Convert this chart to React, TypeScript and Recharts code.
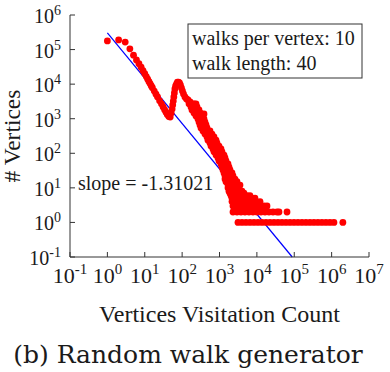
import { ScatterChart, Scatter, XAxis, YAxis, ReferenceLine } from 'recharts';

const xTicks = [0.1, 1, 10, 100, 1e3, 1e4, 1e5, 1e6, 1e7];
const yTicks = [0.1, 1, 10, 100, 1e3, 1e4, 1e5, 1e6];

// low visitation counts: one point per count (the dip and the bump near 80)
const curveCounts = [
  1, 2, 3, 4, 5, 6, 7, 8, 9, 10, 11, 12, 13, 14, 15, 16, 18, 20, 22, 25, 28, 31, 34, 37, 40, 44, 48,
  51, 54, 56, 58, 60, 62, 64, 67, 71, 75, 80, 85, 90, 96, 102, 109, 119, 131, 144, 163,
];
const curveVertices = [
  178000, 190000, 165000, 105000, 69000, 50000, 39000, 31000, 24500, 20000, 16500, 13900, 11800, 10200,
  8900, 7900, 6300, 5100, 4250, 3300, 2700, 2200, 1830, 1550, 1320, 1150, 1120,
  1460, 1900, 2490, 3240, 4250, 5540, 7250, 8840, 10100, 11500, 11500, 10800, 9450, 7730, 6330, 5190,
  4250, 3720, 3480, 3040,
];

// higher counts: the spread band, one row per vertex count
const rowVertices = [
  2700, 2180, 1790, 1460, 1200, 980, 800, 658, 540, 441, 360, 296, 240, 198, 162, 133, 110, 89, 73, 60,
  49, 40, 33, 27, 22, 18, 15, 12, 10, 8, 7, 6, 5, 4, 3, 2, 1,
];
const rowCounts = [
  [153, 173, 195, 214, 235],
  [173, 192, 214, 231, 250],
  [184, 208, 235, 258, 283],
  [208, 232, 258, 283, 310],
  [235, 258, 283, 310, 341],
  [266, 292, 320, 351, 385],
  [283, 310, 341, 373, 409],
  [301, 330, 362, 397, 436],
  [320, 351, 385, 422, 463],
  [362, 404, 450, 500, 557],
  [409, 449, 492, 557, 630],
  [463, 515, 572, 639, 713],
  [492, 557, 630, 713, 806],
  [557, 618, 686, 767, 857],
  [593, 670, 758, 857, 970],
  [670, 758, 857, 970, 1097],
  [713, 806, 912, 1031, 1167],
  [806, 912, 1031, 1167, 1320],
  [912, 1000, 1097, 1241, 1403],
  [970, 1080, 1203, 1340, 1492],
  [1097, 1203, 1320, 1492, 1688],
  [1167, 1300, 1447, 1610, 1795],
  [1241, 1403, 1587, 1741, 1909],
  [1320, 1492, 1688, 1909, 2159],
  [1403, 1587, 1795, 2030, 2296],
  [1403, 1587, 1795, 2030, 2296, 2597],
  [1492, 1688, 1909, 2159, 2442, 2700, 2937],
  [1688, 1909, 2159, 2442, 2762, 3124, 3533],
  [1688, 1909, 2159, 2442, 2762, 3030, 3322],
  [1795, 2030, 2296, 2597, 2937, 3420, 3996],
  [1909, 2442, 3124, 3757, 4519],
  [2030, 2597, 3322, 4249, 5436, 6538],
  [2159, 2762, 3533, 4519, 5781, 7395, 8895],
  [2159, 2762, 3533, 4519, 5781, 7395, 9460, 12130],
  [2296, 2937, 3757, 4806, 6148, 7864, 10060, 12890, 15510, 18650],
  [2296, 2937, 3757, 4806, 6148, 7864, 10060, 12890, 16490, 21100, 27000, 34530, 39060, 63970],
  [3124, 3996, 5111, 6538, 8364, 10700, 13710, 17540, 22440, 28700, 36720, 46970, 60080, 76860, 98320,
    125800, 160900, 205800, 263300, 336800, 430900, 551200, 705100, 902000, 1154000, 1998000],
];

const strayCounts = [385];
const strayVertices = [1370];

// fitted power law, slope -1.31021
const slope = -1.31021;
const fitCounts = [1, 88300];
const fitVertices = [302000, 0.1];

const points = [
  ...curveCounts.map((c, i) => ({ count: c, vertices: curveVertices[i] })),
  ...rowCounts.flatMap((row, i) => row.map(c => ({ count: c, vertices: rowVertices[i] }))),
  ...strayCounts.map((c, i) => ({ count: c, vertices: strayVertices[i] })),
];

const serif = 'Liberation Serif';
const ink = '#1a1a1a';

const XTick = (props: any) => {
  const { x, y, payload } = props;
  const e = Math.round(Math.log10(payload.value));
  return (
    <text x={x} y={y} textAnchor="middle" fontFamily={serif} fontSize={22} fill={ink}>
      <tspan>10</tspan>
      <tspan dy={-9} fontSize={15}>{e}</tspan>
    </text>
  );
};

const YTick = (props: any) => {
  const { x, y, payload } = props;
  const e = Math.round(Math.log10(payload.value));
  return (
    <text x={x} y={y + 8} textAnchor="end" fontFamily={serif} fontSize={20} fill={ink}>
      <tspan>10</tspan>
      <tspan dy={-8} fontSize={14}>{e}</tspan>
    </text>
  );
};

const Dot = (props: any) => <circle cx={props.cx} cy={props.cy} r={3.4} fill="#ff0000" />;

export default function App() {
  return (
    <div style={{ position: 'absolute', left: 0, top: 0, width: 390, height: 372, background: '#fff' }}>
      <ScatterChart width={390} height={372} margin={{ top: 15, right: 21, bottom: 0, left: 0 }}>
        <XAxis
          dataKey="count"
          type="number"
          scale="log"
          domain={[0.1, 1e7]}
          ticks={xTicks}
          interval={0}
          allowDataOverflow
          height={115}
          stroke="#333"
          tickSize={-5}
          tickMargin={31}
          tick={<XTick />}
          label={{
            content: (p: any) => {
              const vb = p.viewBox;
              return (
                <g>
                  <text x={vb.x + vb.width / 2} y={vb.y + 65} textAnchor="middle" fontFamily={serif} fontSize={24} fill={ink}>
                    Vertices Visitation Count
                  </text>
                  <text x={vb.x + 118} y={vb.y + 106} textAnchor="middle" fontFamily="DejaVu Serif" fontSize={25} fill={ink}>
                    (b) Random walk generator
                  </text>
                </g>
              );
            },
          }}
        />
        <XAxis xAxisId="top" orientation="top" type="number" scale="log" domain={[0.1, 1e7]} ticks={xTicks}
          interval={0} allowDataOverflow height={0} stroke="#333" tickSize={-5} tick={false} />
        <YAxis
          dataKey="vertices"
          type="number"
          scale="log"
          domain={[0.1, 1e6]}
          ticks={yTicks}
          interval={0}
          allowDataOverflow
          width={70}
          stroke="#333"
          tickSize={-5}
          tickMargin={14}
          tick={<YTick />}
          label={{
            content: (p: any) => {
              const vb = p.viewBox;
              const cx = vb.x + 20;
              const cy = vb.y + vb.height / 2;
              return (
                <text x={cx} y={cy} transform={`rotate(-90, ${cx}, ${cy})`} textAnchor="middle" fontFamily={serif} fontSize={23.5} fill={ink}>
                  # Vertices
                </text>
              );
            },
          }}
        />
        <YAxis yAxisId="right" orientation="right" type="number" scale="log" domain={[0.1, 1e6]} ticks={yTicks}
          interval={0} allowDataOverflow width={0} stroke="#333" tickSize={-5} tick={false} />
        <Scatter data={points} shape={<Dot />} isAnimationActive={false} />
        <ReferenceLine
          segment={[
            { x: fitCounts[0], y: fitVertices[0] },
            { x: fitCounts[1], y: fitVertices[1] },
          ]}
          stroke="#0000ff"
          strokeWidth={1.2}
        />
      </ScatterChart>
      <svg width={390} height={372} style={{ position: 'absolute', left: 0, top: 0, pointerEvents: 'none' }}>
        <rect x={188} y={24} width={174} height={54} fill="#fff" stroke="#333" strokeWidth={1} />
        <text x={192} y={45} fontFamily={serif} fontSize={20} fill={ink}>walks per vertex: 10</text>
        <text x={192} y={70} fontFamily={serif} fontSize={20} fill={ink}>walk length: 40</text>
        <text x={78} y={190} fontFamily={serif} fontSize={20} fill={ink}>slope = {slope}</text>
      </svg>
    </div>
  );
}
